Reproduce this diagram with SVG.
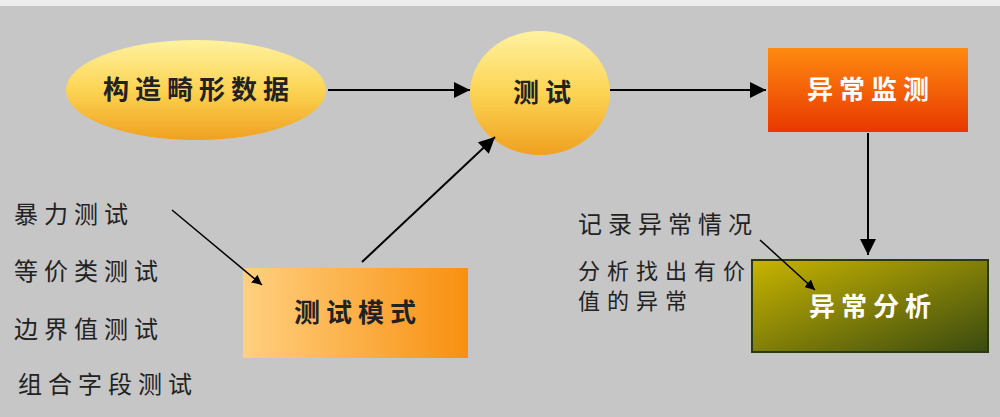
<svg xmlns="http://www.w3.org/2000/svg" width="1000" height="417" viewBox="0 0 1000 417">
<defs>
<linearGradient id="gy" x1="0" y1="0" x2="0" y2="1"><stop offset="0" stop-color="#fff2a0"/><stop offset="0.5" stop-color="#fcd453"/><stop offset="1" stop-color="#f0a020"/></linearGradient>
<linearGradient id="gr" x1="0" y1="0" x2="0" y2="1"><stop offset="0" stop-color="#ff8a10"/><stop offset="1" stop-color="#e83800"/></linearGradient>
<linearGradient id="go" x1="0" y1="0" x2="1" y2="0"><stop offset="0" stop-color="#ffd080"/><stop offset="1" stop-color="#f89010"/></linearGradient>
<linearGradient id="gg" x1="0" y1="0" x2="1" y2="1"><stop offset="0" stop-color="#c8b400"/><stop offset="1" stop-color="#3a4a10"/></linearGradient>
<marker id="ah" viewBox="0 0 10 10" refX="10" refY="5" markerWidth="10" markerHeight="10" markerUnits="userSpaceOnUse" orient="auto"><path d="M0,0 L10,5 L0,10 z" fill="#000"/></marker>
<marker id="ahb" viewBox="0 0 10 10" refX="10" refY="5" markerWidth="20" markerHeight="16" markerUnits="userSpaceOnUse" orient="auto"><path d="M0,0 L10,5 L0,10 z" fill="#000"/></marker>
</defs>
<style>
text{font-family:"Noto Sans CJK SC","Noto Sans",sans-serif;fill:#222}
.n{font-size:26px;font-weight:bold;letter-spacing:6px}
.w{fill:#fff}
.s{font-size:24px;letter-spacing:6px}
.t{font-size:22px;letter-spacing:7px}
.c{stroke:#000;stroke-width:2;fill:none;marker-end:url(#ahb)}
</style>
<rect width="1000" height="417" fill="#c6c6c6"/>
<rect width="1000" height="6" fill="#eeeeee"/>
<g id="n1"><ellipse cx="196" cy="90" rx="130" ry="50" fill="url(#gy)"/><text class="n" x="199" y="99" text-anchor="middle">构造畸形数据</text></g>
<g id="n2"><ellipse cx="540" cy="93" rx="70" ry="62" fill="url(#gy)"/><text class="n" x="545" y="102" text-anchor="middle">测试</text></g>
<g id="n3"><rect x="768" y="48" width="200" height="84" fill="url(#gr)"/><text class="n w" x="871" y="99" text-anchor="middle">异常监测</text></g>
<g id="n4"><rect x="243" y="268" width="225" height="90" fill="url(#go)"/><text class="n" x="358" y="322" text-anchor="middle">测试模式</text></g>
<g id="n5"><rect x="752" y="260" width="236" height="92" fill="url(#gg)" stroke="#2a3a10" stroke-width="2"/><text class="n w" x="873" y="316" text-anchor="middle">异常分析</text></g>
<g id="labels">
<text class="s" x="14" y="223">暴力测试</text>
<text class="s" x="14" y="280">等价类测试</text>
<text class="s" x="14" y="338">边界值测试</text>
<text class="s" x="18" y="393">组合字段测试</text>
<text class="s" x="578" y="233">记录异常情况</text>
<text class="t" x="578" y="279">分析找出有价</text>
<text class="t" x="578" y="309">值的异常</text>
</g>
<g id="connectors">
<line class="c" x1="328" y1="90" x2="470" y2="90"/>
<line class="c" x1="610" y1="90" x2="766" y2="90"/>
<line class="c" x1="868" y1="133" x2="868" y2="255"/>
<line class="c" x1="362" y1="262" x2="495" y2="137"/>
<line class="c" x1="172" y1="210" x2="262" y2="285" style="marker-end:url(#ah);stroke-width:1.5"/>
<line class="c" x1="760" y1="240" x2="815" y2="290" style="marker-end:url(#ah);stroke-width:1.5"/>
</g>
</svg>
